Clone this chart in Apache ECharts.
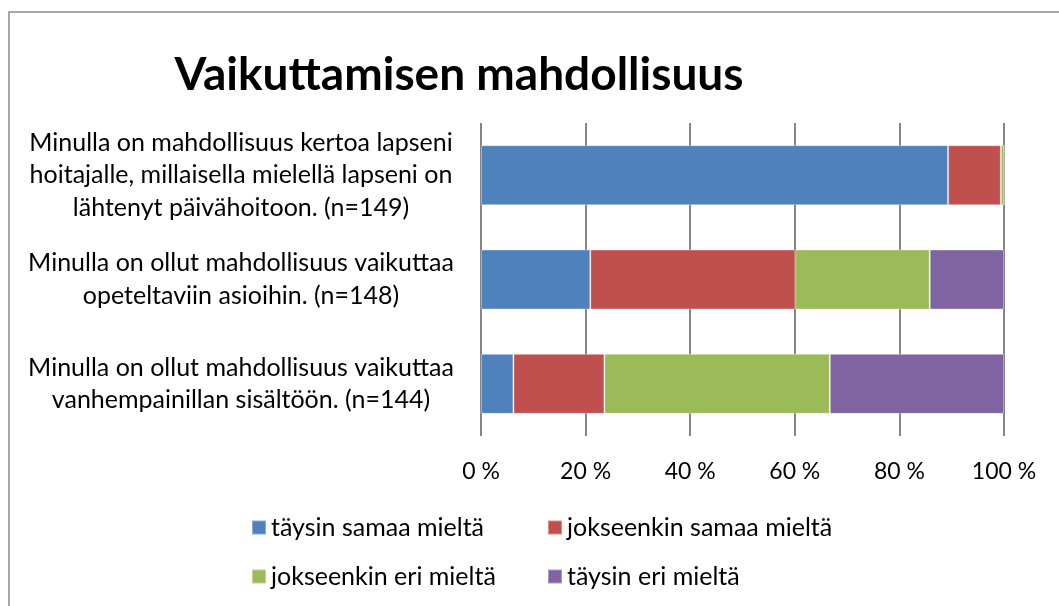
<!DOCTYPE html>
<html>
<head>
<meta charset="utf-8">
<script src="https://cdn.jsdelivr.net/npm/echarts@6/dist/echarts.min.js"></script>
<style>
html,body{margin:0;padding:0;background:#fff;}
#chart{width:1059px;height:606px;}
</style>
</head>
<body>
<div id="chart"></div>
<script>
var titleText = 'Vaikuttamisen mahdollisuus';
var categories = [
  'Minulla on mahdollisuus kertoa lapseni\nhoitajalle, millaisella mielellä lapseni on\nlähtenyt päivähoitoon. (n=149)',
  'Minulla on ollut mahdollisuus vaikuttaa\nopeteltaviin asioihin. (n=148)',
  'Minulla on ollut mahdollisuus vaikuttaa\nvanhempainillan sisältöön. (n=144)'
];
var seriesNames = ['täysin samaa mieltä', 'jokseenkin samaa mieltä', 'jokseenkin eri mieltä', 'täysin eri mieltä'];
var taysinSamaa = [89.3, 20.9, 6.2];
var jokseenkinSamaa = [10.1, 39.2, 17.4];
var jokseenkinEri = [0.6, 25.7, 43.1];
var taysinEri = [0, 14.2, 33.3];
var colors = ['#4F81BD', '#C0504D', '#9BBB59', '#8064A2'];
var tickValues = [0, 20, 40, 60, 80, 100];

var FONT = 'Lato';
var values = [taysinSamaa, jokseenkinSamaa, jokseenkinEri, taysinEri];

var series = seriesNames.map(function (name, i) {
  return {
    name: name,
    type: 'bar',
    stack: 'total',
    barWidth: 60,
    itemStyle: { color: colors[i], borderColor: 'rgba(255,255,255,0.35)', borderWidth: 1 },
    emphasis: { disabled: true },
    data: values[i]
  };
});

var legendPos = [
  { left: 251, top: 515 },
  { left: 547, top: 515 },
  { left: 251, top: 564 },
  { left: 547, top: 564 }
];
var legends = seriesNames.map(function (name, i) {
  return {
    data: [name],
    left: legendPos[i].left,
    top: legendPos[i].top,
    icon: 'rect',
    itemWidth: 14,
    itemHeight: 14,
    padding: 0,
    selectedMode: false,
    textStyle: { fontFamily: FONT, fontSize: 25, color: '#000', padding: [0, 0, 0, 0] }
  };
});

var chart = echarts.init(document.getElementById('chart'), null, { renderer: 'canvas' });
chart.setOption({
  animation: false,
  color: colors,
  title: {
    text: titleText,
    left: 454,
    top: 47,
    textAlign: 'center',
    textStyle: { fontFamily: FONT, fontSize: 46, fontWeight: 'bold', color: '#000' }
  },
  graphic: [{
    type: 'rect',
    shape: { x: 9, y: 12, width: 1200, height: 800 },
    style: { fill: 'none', stroke: '#8a8a8a', lineWidth: 1.5 },
    silent: true
  }],
  legend: legends,
  grid: { left: 481, right: 55, top: 123, bottom: 170, containLabel: false },
  xAxis: {
    type: 'value',
    min: 0,
    max: 100,
    interval: 20,
    axisLine: { show: false },
    axisTick: { show: false },
    splitLine: { show: true, lineStyle: { color: '#868686', width: 2 } },
    axisLabel: {
      formatter: '{value} %',
      fontFamily: FONT,
      fontSize: 23,
      color: '#000',
      margin: 24
    }
  },
  yAxis: {
    type: 'category',
    data: categories,
    inverse: true,
    axisLine: { show: false },
    axisTick: { show: false },
    axisLabel: {
      fontFamily: FONT,
      fontSize: 25,
      lineHeight: 32.5,
      color: '#000',
      align: 'center',
      margin: 240
    }
  },
  series: series
});
</script>
</body>
</html>
